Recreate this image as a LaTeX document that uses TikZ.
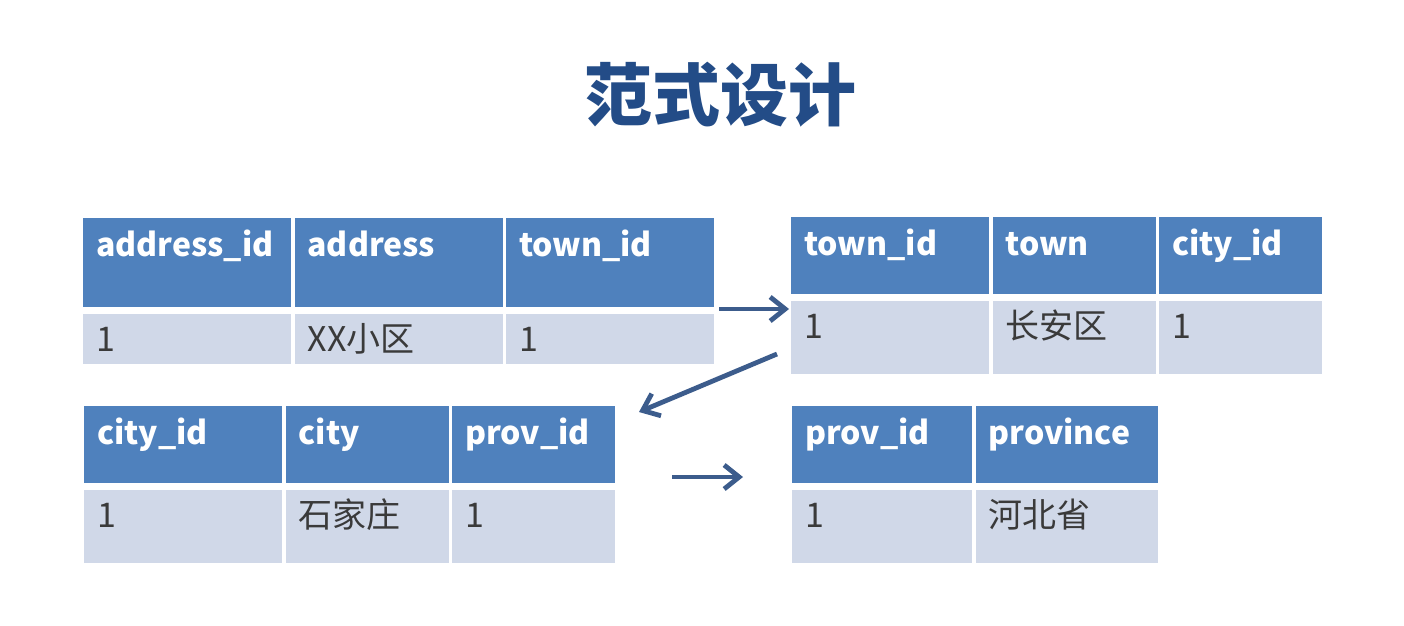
\documentclass[tikz,border=0pt]{standalone}
\usepackage{fontspec}
\setmainfont{Noto Sans CJK SC}
\usepackage{xcolor}
\definecolor{headblue}{RGB}{79,129,189}
\definecolor{rowblue}{RGB}{208,216,232}
\definecolor{titleblue}{RGB}{35,76,135}
\definecolor{arrowblue}{RGB}{60,92,140}
\definecolor{bodygray}{RGB}{58,58,58}
\usepackage{tikz}
\usetikzlibrary{positioning, arrows.meta}

\begin{document}
\begin{tikzpicture}[x=1pt, y=-1pt]
    % Define styles
    \tikzstyle{cell} = [rectangle, anchor=north west, inner xsep=13pt, inner ysep=0pt,
        text height=38pt, align=left, font=\fontsize{34}{34}\selectfont]
    \tikzstyle{head} = [cell, fill=headblue, text=white, font=\fontsize{32}{32}\selectfont\bfseries]
    \tikzstyle{row} = [cell, fill=rowblue, text=bodygray]
    \tikzstyle{line} = [draw=arrowblue, line width=4.8pt, -{Straight Barb[length=15pt, width=24pt]}]

    \useasboundingbox [fill=white] (0,0) rectangle (1404,625);

    % Title
    \node [font=\fontsize{68}{68}\selectfont\bfseries, text=titleblue] (title) at (720,95) {范式设计};

    % address table
    \node [head, text width=182pt, text depth=51pt] (t1h1) at (83,218) {address\_id};
    \node [head, text width=182pt, text depth=51pt, right=3pt of t1h1] (t1h2) {address};
    \node [head, text width=182pt, text depth=51pt, right=3pt of t1h2] (t1h3) {town\_id};
    \node [row, text width=182pt, text depth=12pt, below=6pt of t1h1] (t1b1) {1};
    \node [row, text width=182pt, text depth=12pt, below=6pt of t1h2] (t1b2) {XX小区};
    \node [row, text width=182pt, text depth=12pt, below=6pt of t1h3] (t1b3) {1};

    % town table
    \node [head, text width=172pt, text depth=39pt] (t2h1) at (791,217) {town\_id};
    \node [head, text width=137pt, text depth=39pt, right=3pt of t2h1] (t2h2) {town};
    \node [head, text width=137pt, text depth=39pt, right=3pt of t2h2] (t2h3) {city\_id};
    \node [row, text width=172pt, text depth=35pt, below=6pt of t2h1] (t2b1) {1};
    \node [row, text width=137pt, text depth=35pt, below=6pt of t2h2] (t2b2) {长安区};
    \node [row, text width=137pt, text depth=35pt, below=6pt of t2h3] (t2b3) {1};

    % city table
    \node [head, text width=172pt, text depth=39pt] (t3h1) at (84,406) {city\_id};
    \node [head, text width=137pt, text depth=39pt, right=3pt of t3h1] (t3h2) {city};
    \node [head, text width=137pt, text depth=39pt, right=3pt of t3h2] (t3h3) {prov\_id};
    \node [row, text width=172pt, text depth=35pt, below=6pt of t3h1] (t3b1) {1};
    \node [row, text width=137pt, text depth=35pt, below=6pt of t3h2] (t3b2) {石家庄};
    \node [row, text width=137pt, text depth=35pt, below=6pt of t3h3] (t3b3) {1};

    % province table
    \node [head, text width=154pt, text depth=39pt] (t4h1) at (792,406) {prov\_id};
    \node [head, text width=156pt, text depth=39pt, right=3pt of t4h1] (t4h2) {province};
    \node [row, text width=154pt, text depth=35pt, below=6pt of t4h1] (t4b1) {1};
    \node [row, text width=156pt, text depth=35pt, below=6pt of t4h2] (t4b2) {河北省};

    % Draw edges
    \coordinate (a1s) at (719,309);
    \coordinate (a1e) at (789,309);
    \coordinate (a2s) at (777,354);
    \coordinate (a2e) at (639,412);
    \coordinate (a3s) at (672,477);
    \coordinate (a3e) at (743,477);
    \path [line] (a1s) -- (a1e);
    \path [line] (a2s) -- (a2e);
    \path [line] (a3s) -- (a3e);
\end{tikzpicture}
\end{document}
